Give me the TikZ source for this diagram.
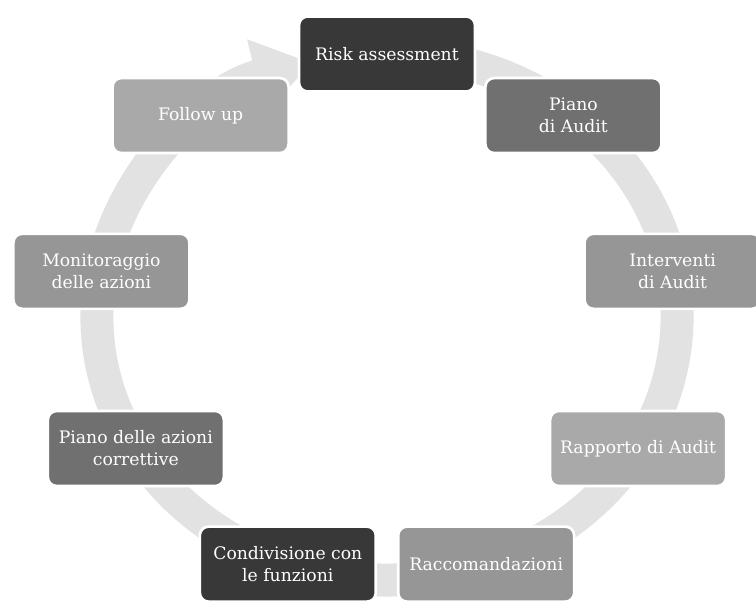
\documentclass[tikz,border=0pt]{standalone}
\usepackage{fontspec}
\setmainfont{DejaVu Serif}
\usetikzlibrary{arrows.meta}
\definecolor{anello}{HTML}{E2E2E2}
\definecolor{scuro}{HTML}{383838}
\definecolor{medio}{HTML}{707070}
\definecolor{chiaro}{HTML}{969696}
\definecolor{tenue}{HTML}{A9A9A9}
\begin{document}
\begin{tikzpicture}[x=0.02cm,y=0.02cm,line join=round,font=\fontsize{9.8}{12.5}\selectfont,
	fase/.style={draw=white,line width=1.5pt,rounded corners=5pt,minimum width=3.52cm,minimum height=1.5cm,inner sep=2pt,align=center,text=white}]
			\def \rx{290};
			\def \ry{263};
			\useasboundingbox (-387,-284) rectangle (369,317);
			\path
			({\rx*cos(75)},{\ry*sin(75)}) coordinate (T)
			;
			\draw[anello, line width=0.66cm, -{Triangle[length=1.15cm,width=1.45cm]}] (T) arc[start angle=75, end angle=-255, x radius=\rx, y radius=\ry];
			\foreach \n/\g/\c/\t in {RA/90/scuro/{Risk assessment}, PA/50/medio/{Piano\\di Audit}, IA/10/chiaro/{Interventi\\di Audit}, RP/-30/tenue/{Rapporto di Audit}, RC/-70/chiaro/{Raccomandazioni}, CF/-110/scuro/{Condivisione con\\le funzioni}, PC/-150/medio/{Piano delle azioni\\correttive}, MA/170/chiaro/{Monitoraggio\\delle azioni}, FU/130/tenue/{Follow up}}
			\node[fase,fill=\c] (\n) at ({\rx*cos(\g)},{\ry*sin(\g)}) {\t};
		\end{tikzpicture}
\end{document}
